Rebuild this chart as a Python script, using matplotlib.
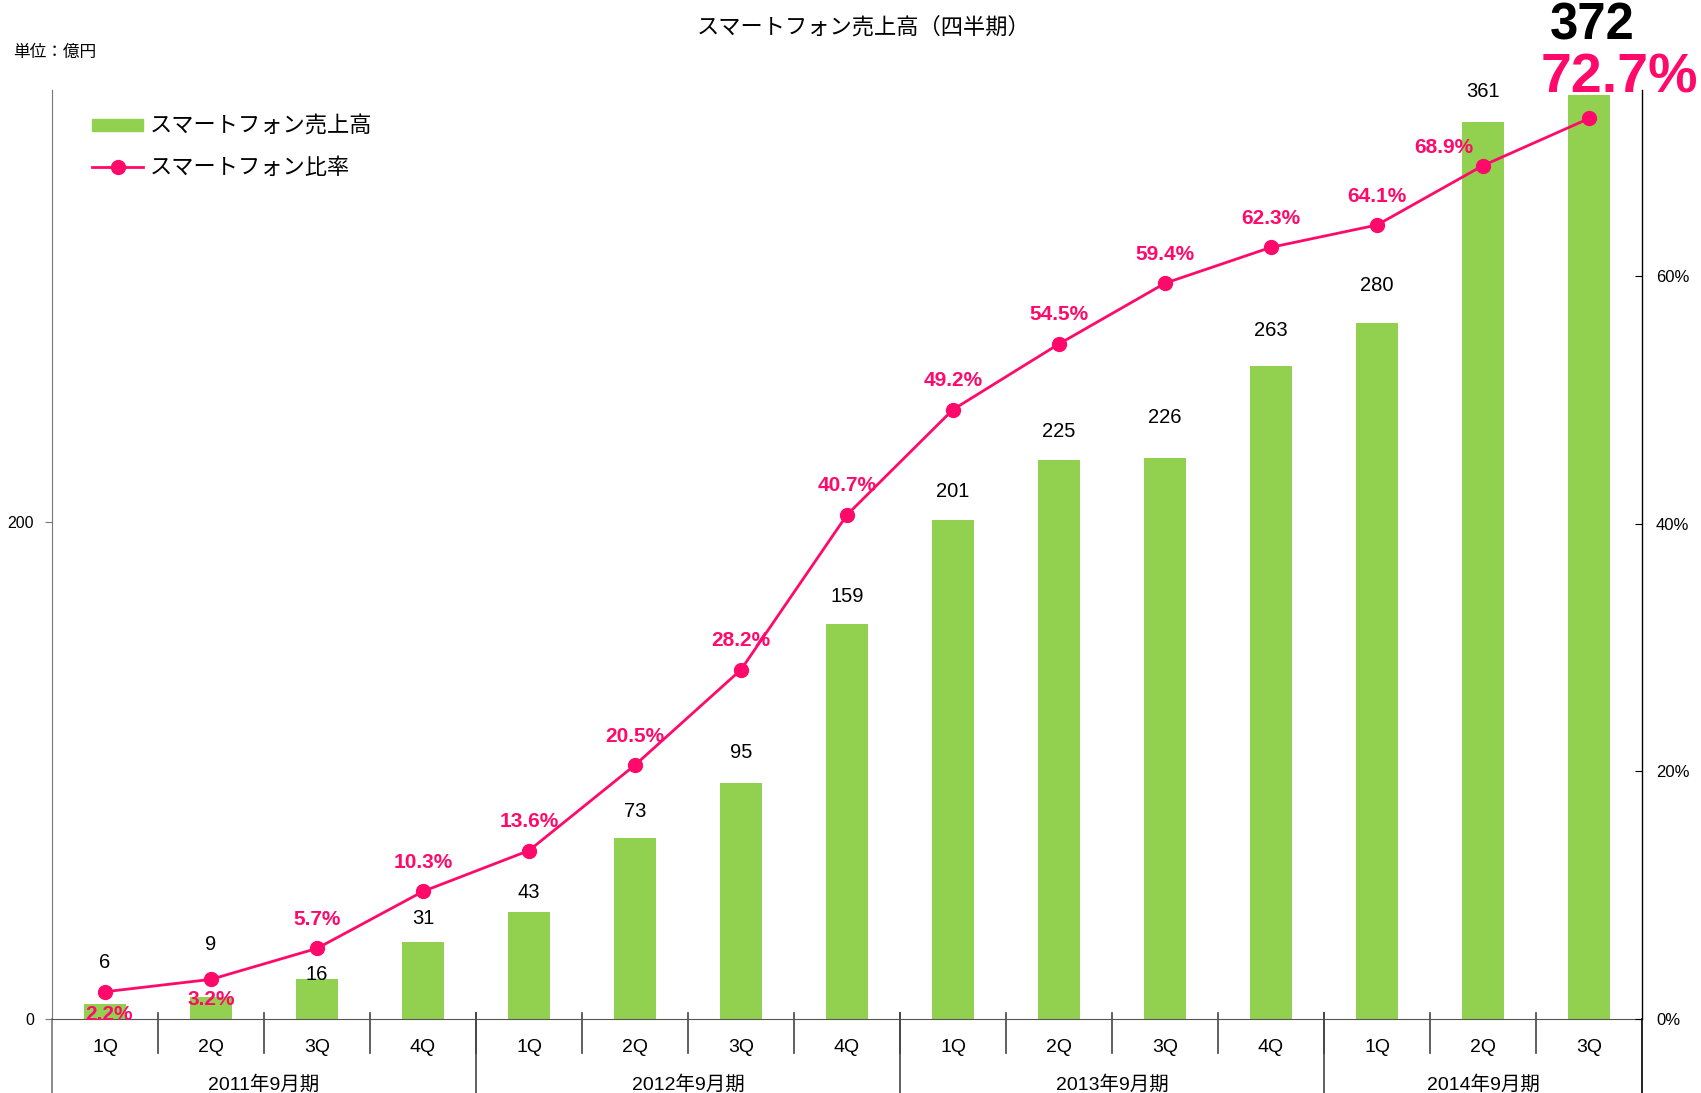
import matplotlib
matplotlib.use("Agg")
import matplotlib.pyplot as plt
from matplotlib.patches import Patch
from matplotlib.lines import Line2D

plt.rcParams['font.family'] = ['Liberation Sans', 'Noto Sans CJK JP']

# データ
quarters = ['1Q', '2Q', '3Q', '4Q', '1Q', '2Q', '3Q', '4Q',
            '1Q', '2Q', '3Q', '4Q', '1Q', '2Q', '3Q']
years = ['2011年9月期', '2012年9月期', '2013年9月期', '2014年9月期']
year_sizes = [4, 4, 4, 3]
sales = [6, 9, 16, 31, 43, 73, 95, 159, 201, 225, 226, 263, 280, 361, 372]
ratio = [2.2, 3.2, 5.7, 10.3, 13.6, 20.5, 28.2, 40.7, 49.2, 54.5, 59.4,
         62.3, 64.1, 68.9, 72.7]

# ラベルの位置調整 (px)
sales_off = [42, 52, 5, 23, 20, 26, 31, 28, 28, 29, 40, 35, 38, 31]
ratio_off = [-23, -20, 29, 29, 29, 29, 29, 29, 29, 29, 29, 29, 29, 18]
ratio_dx = [4, 0, 0, 0, 0, 0, 0, 0, 0, 0, 0, 0, 0, -39]

green = '#92D050'
pink = '#FF0A6A'
px = 72 / 100  # px -> pt

fig = plt.figure(figsize=(17.01, 10.93), dpi=100)
ax = fig.add_axes([52 / 1701, 74 / 1093, 1590 / 1701, 929 / 1093])
ax2 = ax.twinx()

x = list(range(len(sales)))
ax.bar(x, sales, width=0.4, color=green, zorder=2)
ax.set_xlim(-0.5, 14.5)
ax.set_ylim(0, 374)
ax2.set_ylim(0, 75)

ax2.plot(x, ratio, color=pink, lw=2, marker='o', markersize=10, zorder=3)

# 売上ラベル
for i in range(len(sales) - 1):
    ax.annotate(str(sales[i]), (x[i], sales[i]), xytext=(0, sales_off[i] * px),
                textcoords='offset points', ha='center', va='center',
                fontsize=14.5, color='black')
for i in range(len(ratio) - 1):
    ax2.annotate(f'{ratio[i]}%', (x[i], ratio[i]),
                 xytext=(ratio_dx[i] * px, ratio_off[i] * px),
                 textcoords='offset points', ha='center', va='center',
                 fontsize=15, fontweight='bold', color=pink, zorder=5)

# 最新四半期
ax2.annotate(str(sales[-1]), (x[-1], ratio[-1]), xytext=(3 * px, 92 * px),
             textcoords='offset points', ha='center', va='center',
             fontsize=36.5, fontweight='bold', color='black', annotation_clip=False)
ax2.annotate(f'{ratio[-1]}%', (x[-1], ratio[-1]), xytext=(30 * px, 40 * px),
             textcoords='offset points', ha='center', va='center',
             fontsize=40, fontweight='bold', color=pink, annotation_clip=False)

# 軸
ax.spines['top'].set_visible(False)
ax.spines['right'].set_visible(False)
ax.spines['left'].set_color('#777777')
ax.spines['bottom'].set_color('#555555')
for s in ['top', 'left', 'bottom']:
    ax2.spines[s].set_visible(False)
ax2.spines['right'].set_color('black')
ax2.spines['right'].set_linewidth(1)

ax.set_yticks([0, 200])
ax.tick_params(axis='y', labelsize=11.5, length=5, pad=8, color='#777777')
ax.set_xticks([])
ax2.set_yticks([0, 20, 40, 60])
ax2.set_yticklabels([f'{v}%' for v in [0, 20, 40, 60]])
ax2.tick_params(axis='y', labelsize=12, direction='in', length=5, pad=10)

# X軸ラベルと区切り線
trans = ax.get_xaxis_transform()
for i, q in enumerate(quarters):
    ax.text(i, -28 / 929, q, transform=trans, ha='center', va='center',
            fontsize=14)
for i in range(len(quarters) - 1):
    ax.plot([i + 0.5, i + 0.5], [6 / 929, -34 / 929], transform=trans,
            color='#444444', lw=1.2, clip_on=False)
start = -0.5
for y, n in zip(years, year_sizes):
    ax.text(start + n / 2, -66 / 929, y, transform=trans, ha='center',
            va='center', fontsize=14)
    start += n
bounds = [-0.5]
for n in year_sizes:
    bounds.append(bounds[-1] + n)
for b in bounds:
    c = '#777777' if b == -0.5 else ('black' if b == 14.5 else '#444444')
    ax.plot([b, b], [6 / 929 if -0.5 < b < 14.5 else 0, -0.09], transform=trans,
            color=c, lw=1.2, clip_on=False)

# 凡例
handles = [Patch(color=green, label='スマートフォン売上高'),
           Line2D([], [], color=pink, lw=2, marker='o', markersize=10,
                  label='スマートフォン比率')]
ax2.legend(handles=handles, loc='upper left', frameon=False,
           bbox_to_anchor=(92 / 1701, 1 - 117 / 1093),
           bbox_transform=fig.transFigure, fontsize=16,
           handlelength=2.3, handleheight=0.5, handletextpad=0.3,
           labelspacing=0.9, borderpad=0, borderaxespad=0)

fig.text(864 / 1701, 1 - 28 / 1093, 'スマートフォン売上高（四半期）',
         ha='center', va='center', fontsize=16)
fig.text(13 / 1701, 1 - 52 / 1093, '単位：億円', ha='left', va='center',
         fontsize=12)

fig.savefig('out.png', dpi=100)
